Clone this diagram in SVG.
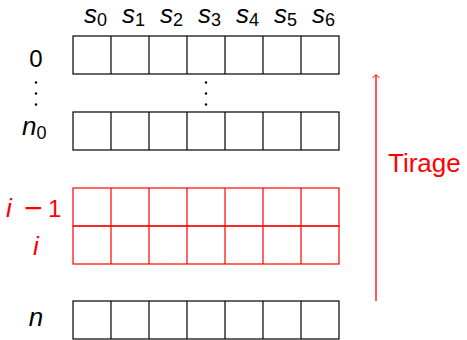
<svg xmlns="http://www.w3.org/2000/svg" width="467" height="340" viewBox="0 0 467 340">
<style>
.lbl{font-family:"Liberation Sans",Arial,sans-serif;font-size:26px;fill:#000}
.dg{font-size:24px}
.it{font-style:italic}
.sub{font-size:18px;font-style:normal}
.red{fill:#ff0000}
.g{fill:none;stroke:#000;stroke-width:1.2}
.gr{fill:none;stroke:#ff0000;stroke-width:1.2}
</style>
<defs>
<g id="row">
<rect x="73" y="0" width="266" height="38"/>
<path d="M111 0V38M149 0V38M187 0V38M225 0V38M263 0V38M301 0V38"/>
</g>
</defs>
<g id="header">
<text class="lbl it" x="84" y="23">s<tspan class="sub" dy="3">0</tspan></text>
<text class="lbl it" x="122" y="23">s<tspan class="sub" dy="3">1</tspan></text>
<text class="lbl it" x="160" y="23">s<tspan class="sub" dy="3">2</tspan></text>
<text class="lbl it" x="198" y="23">s<tspan class="sub" dy="3">3</tspan></text>
<text class="lbl it" x="236" y="23">s<tspan class="sub" dy="3">4</tspan></text>
<text class="lbl it" x="274" y="23">s<tspan class="sub" dy="3">5</tspan></text>
<text class="lbl it" x="312" y="23">s<tspan class="sub" dy="3">6</tspan></text>
</g>
<g id="row0">
<text class="lbl dg" x="36" y="67" text-anchor="middle">0</text>
<g class="g" transform="translate(0,36)"><use href="#row"/></g>
</g>
<g id="dots">
<circle cx="36" cy="82.5" r="1.2"/><circle cx="36" cy="93.5" r="1.2"/><circle cx="36" cy="104.5" r="1.2"/>
<circle cx="206" cy="82.5" r="1.2"/><circle cx="206" cy="93.5" r="1.2"/><circle cx="206" cy="104.5" r="1.2"/>
</g>
<g id="rown0">
<text class="lbl it" x="22" y="135">n<tspan class="sub" dy="4">0</tspan></text>
<g class="g" transform="translate(0,112)"><use href="#row"/></g>
</g>
<g id="rowi1">
<text class="lbl red" y="217"><tspan class="it" x="6">i</tspan><tspan x="24" dy="2" style="font-size:32px">−</tspan><tspan x="48" dy="-2" class="dg">1</tspan></text>
<g class="gr" transform="translate(0,188)"><use href="#row"/></g>
</g>
<g id="rowi">
<text class="lbl red it" x="36" y="255" text-anchor="middle">i</text>
<g class="gr" transform="translate(0,226)"><use href="#row"/></g>
</g>
<g id="rown">
<text class="lbl it" x="36" y="326" text-anchor="middle">n</text>
<g class="g" transform="translate(0,301)"><use href="#row"/></g>
</g>
<g id="connectors" stroke="#ff0000" fill="none">
<line x1="376" y1="301" x2="376" y2="75" stroke-width="1.3"/>
<path d="M372.5 78 L376 74.5 L379.5 78" stroke-width="1"/>
</g>
<g id="tirage">
<text class="lbl red" x="388" y="172" style="font-size:26px">Tirage</text>
</g>
</svg>
